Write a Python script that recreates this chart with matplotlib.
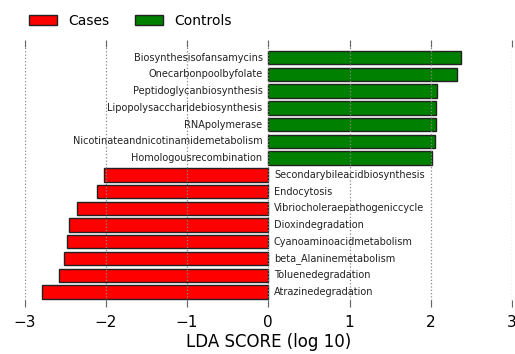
import numpy as np
import matplotlib
matplotlib.use("Agg")
import matplotlib.pyplot as plt
from matplotlib.patches import Patch

# pathways listed top to bottom, LDA score (log 10); sign gives group
pathways = [
    "Biosynthesisofansamycins",
    "Onecarbonpoolbyfolate",
    "Peptidoglycanbiosynthesis",
    "Lipopolysaccharidebiosynthesis",
    "RNApolymerase",
    "Nicotinateandnicotinamidemetabolism",
    "Homologousrecombination",
    "Secondarybileacidbiosynthesis",
    "Endocytosis",
    "Vibriocholeraepathogeniccycle",
    "Dioxindegradation",
    "Cyanoaminoacidmetabolism",
    "beta_Alaninemetabolism",
    "Toluenedegradation",
    "Atrazinedegradation",
]
lda_scores = [2.37, 2.32, 2.08, 2.07, 2.06, 2.05, 2.01,
              -2.02, -2.11, -2.36, -2.45, -2.48, -2.51, -2.57, -2.79]
groups = ["Cases", "Controls"]
group_colors = ["#ff0000", "#008000"]
xticks = [-3, -2, -1, 0, 1, 2, 3]

fig = plt.figure(figsize=(5.15, 3.54), dpi=100)
ax = fig.add_axes([24.5 / 515, 1 - 307 / 354, (512 - 24.5) / 515, 267 / 354])

n = len(pathways)
ypos = np.arange(n)[::-1]
colors = [group_colors[1] if s > 0 else group_colors[0] for s in lda_scores]
ax.barh(ypos, lda_scores, height=0.8, color=colors, edgecolor="#222222",
        linewidth=1.0, zorder=1)

for y, s, name in zip(ypos, lda_scores, pathways):
    if s > 0:
        ax.text(-0.07, y, name, ha="right", va="center", fontsize=7, color="#222222")
    else:
        ax.text(0.07, y, name, ha="left", va="center", fontsize=7, color="#222222")

ax.set_xlim(-3, 3)
ax.set_ylim(-0.9, 15.06)
ax.set_xticks(xticks)
ax.set_yticks([])
ax.tick_params(axis="x", direction="in", top=True, bottom=True, length=5,
               width=0.8, color="#666666", labelsize=11, pad=6)
for sp in ax.spines.values():
    sp.set_visible(False)
ax.set_axisbelow(False)
ax.grid(axis="x", linestyle=":", color="#888888", linewidth=0.9)
ax.set_xlabel("LDA SCORE (log 10)", fontsize=12, labelpad=2)

handles = [Patch(facecolor=c, edgecolor="#222222", label=g) for g, c in zip(groups, group_colors)]
fig.legend(handles=handles, loc="center left", bbox_to_anchor=(22 / 515, 1 - 21 / 354),
           ncol=2, frameon=False, borderpad=0, fontsize=10, handlelength=2.0,
           handleheight=0.8, handletextpad=0.8, columnspacing=1.9)

fig.savefig("out.png", dpi=100)
